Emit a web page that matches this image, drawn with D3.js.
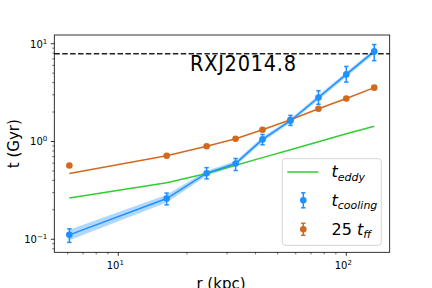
<!DOCTYPE html>
<html>
<head>
<meta charset="utf-8">
<script src="https://cdn.jsdelivr.net/npm/d3@7"></script>
<style>
    body { margin: 0; background: #fff; }
    text { font-family: "DejaVu Sans", sans-serif; }
</style>
</head>
<body>
<script>
    'use strict';

    // radii (kpc) of the annuli
    var radius = [6.1, 16.3, 24.4, 32.7, 42.9, 56.9, 75.5, 100, 132.6];

    // cooling time, with error bars and shaded band
    var tCool = [0.111, 0.261, 0.474, 0.596, 1.05, 1.63, 2.82, 4.85, 8.34];
    var tCoolErrLo = [0.093, 0.225, 0.415, 0.505, 0.925, 1.46, 2.4, 4.05, 6.7];
    var tCoolErrHi = [0.128, 0.297, 0.54, 0.67, 1.18, 1.85, 3.3, 5.85, 9.8];
    var tCoolBandLo = [0.098, 0.238, 0.447, 0.562, 0.99, 1.55, 2.66, 4.57, 7.85];
    var tCoolBandHi = [0.125, 0.285, 0.503, 0.632, 1.11, 1.71, 2.98, 5.13, 8.85];

    // 25 x free-fall time: points and model line
    var tFF25 = [0.568, 0.714, 0.895, 1.066, 1.32, 1.67, 2.16, 2.75, 3.55];
    var tFF25Err = [0.02, 0.02, 0.025, 0.03, 0.035, 0.04, 0.05, 0.06, 0.08];
    var tFF25Model = [0.47, 0.714, 0.895, 1.066, 1.32, 1.67, 2.16, 2.75, 3.55];

    // eddy turnover time
    var tEddy = [0.265, 0.378, 0.47, 0.571, 0.684, 0.824, 0.993, 1.20, 1.43];

    var tHubble = 7.9;
    var xTicks = [10, 100];
    var yTicks = [0.1, 1, 10];

    var W = 432, H = 288;
    var pLeft = 54.3, pRight = 389.7, pTop = 35, pBottom = 252.3;
    var blue = '#1e90ff', orange = '#d2691e', green = '#32cd32';

    var svg = d3.select('body').append('svg')
        .attr('width', W)
        .attr('height', H);

    var x = d3.scaleLog().domain([5.24, 155]).range([pLeft, pRight]);
    var y = d3.scaleLog().domain([0.0736, 12.27]).range([pBottom, pTop]);

    var pts = radius.map(function (r, i) {
        return { r: r, cool: tCool[i], lo: tCoolErrLo[i], hi: tCoolErrHi[i],
                 bLo: tCoolBandLo[i], bHi: tCoolBandHi[i],
                 ff: tFF25[i], ffErr: tFF25Err[i], ffm: tFF25Model[i], eddy: tEddy[i] };
    });

    var plot = svg.append('g');

    // cooling band
    plot.append('path')
        .datum(pts)
        .attr('d', d3.area()
            .x(function (d) { return x(d.r); })
            .y0(function (d) { return y(d.bLo); })
            .y1(function (d) { return y(d.bHi); }))
        .attr('fill', blue)
        .attr('fill-opacity', 0.35);

    function line(key) {
        return d3.line()
            .x(function (d) { return x(d.r); })
            .y(function (d) { return y(d[key]); });
    }

    plot.append('path').datum(pts).attr('d', line('eddy'))
        .attr('fill', 'none').attr('stroke', green).attr('stroke-width', 1.5);
    plot.append('path').datum(pts).attr('d', line('ffm'))
        .attr('fill', 'none').attr('stroke', orange).attr('stroke-width', 1.5);
    plot.append('path').datum(pts).attr('d', line('cool'))
        .attr('fill', 'none').attr('stroke', blue).attr('stroke-width', 1.5);

    // hubble time
    plot.append('line')
        .attr('x1', pLeft).attr('x2', pRight)
        .attr('y1', y(tHubble)).attr('y2', y(tHubble))
        .attr('stroke', '#222').attr('stroke-width', 1.5)
        .attr('stroke-dasharray', '5.5,2.4');

    function errbars(g, color, getY, getLo, getHi) {
        var e = g.selectAll(null).data(pts).enter().append('g').attr('stroke', color).attr('stroke-width', 1.5);
        e.append('line')
            .attr('x1', function (d) { return x(d.r); })
            .attr('x2', function (d) { return x(d.r); })
            .attr('y1', function (d) { return y(getLo(d)); })
            .attr('y2', function (d) { return y(getHi(d)); });
        [getLo, getHi].forEach(function (f) {
            e.append('line')
                .attr('x1', function (d) { return x(d.r) - 2.2; })
                .attr('x2', function (d) { return x(d.r) + 2.2; })
                .attr('y1', function (d) { return y(f(d)); })
                .attr('y2', function (d) { return y(f(d)); });
        });
        g.selectAll(null).data(pts).enter().append('circle')
            .attr('cx', function (d) { return x(d.r); })
            .attr('cy', function (d) { return y(getY(d)); })
            .attr('r', 3.3)
            .attr('fill', color);
    }

    errbars(plot.append('g'), orange,
        function (d) { return d.ff; },
        function (d) { return d.ff - d.ffErr; },
        function (d) { return d.ff + d.ffErr; });
    errbars(plot.append('g'), blue,
        function (d) { return d.cool; },
        function (d) { return d.lo; },
        function (d) { return d.hi; });

    // title text (narrow, widely spaced glyphs in the reference)
    svg.append('text')
        .attr('x', 190).attr('y', 71)
        .attr('font-size', 21.5)
        .style('font-family', '"DejaVu Sans Condensed", "DejaVu Sans", sans-serif')
        .style('font-stretch', 'condensed')
        .attr('textLength', 106)
        .attr('lengthAdjust', 'spacing')
        .attr('fill', '#000')
        .text('RXJ2014.8');

    // frame
    svg.append('rect')
        .attr('x', pLeft).attr('y', pTop)
        .attr('width', pRight - pLeft).attr('height', pBottom - pTop)
        .attr('fill', 'none').attr('stroke', '#000').attr('stroke-width', 0.8);

    // axes
    var xAxis = svg.append('g').attr('transform', 'translate(0,' + pBottom + ')');
    var xMinor = [];
    [1, 10].forEach(function (b) {
        for (var k = 2; k < 10; k++) {
            var v = b * k;
            if (v > 5.24 && v < 155) xMinor.push(v);
        }
    });
    xAxis.selectAll('.mn').data(xMinor).enter().append('line')
        .attr('x1', function (d) { return x(d); }).attr('x2', function (d) { return x(d); })
        .attr('y1', 0).attr('y2', 2).attr('stroke', '#000').attr('stroke-width', 0.6);
    xAxis.selectAll('.mj').data(xTicks).enter().append('line')
        .attr('x1', function (d) { return x(d); }).attr('x2', function (d) { return x(d); })
        .attr('y1', 0).attr('y2', 3.5).attr('stroke', '#000').attr('stroke-width', 0.8);
    var xl = xAxis.selectAll('.lb').data(xTicks).enter().append('text')
        .attr('x', function (d) { return x(d) - 3; })
        .attr('y', 17)
        .attr('text-anchor', 'middle')
        .attr('font-size', 10);
    xl.append('tspan').text('10');
    xl.append('tspan').attr('dy', -4).attr('font-size', 7)
        .text(function (d) { return Math.round(Math.log10(d)); });

    var yAxis = svg.append('g').attr('transform', 'translate(' + pLeft + ',0)');
    var yMinor = [];
    [0.01, 0.1, 1, 10].forEach(function (b) {
        for (var k = 2; k < 10; k++) {
            var v = b * k;
            if (v > 0.0736 && v < 12.27) yMinor.push(v);
        }
    });
    yAxis.selectAll('.mn').data(yMinor).enter().append('line')
        .attr('y1', function (d) { return y(d); }).attr('y2', function (d) { return y(d); })
        .attr('x1', 0).attr('x2', -2).attr('stroke', '#000').attr('stroke-width', 0.6);
    yAxis.selectAll('.mj').data(yTicks).enter().append('line')
        .attr('y1', function (d) { return y(d); }).attr('y2', function (d) { return y(d); })
        .attr('x1', 0).attr('x2', -3.5).attr('stroke', '#000').attr('stroke-width', 0.8);
    var yl = yAxis.selectAll('.lb').data(yTicks).enter().append('text')
        .attr('x', -7)
        .attr('y', function (d) { return y(d) + 4; })
        .attr('text-anchor', 'end')
        .attr('font-size', 10);
    yl.append('tspan').text('10');
    yl.append('tspan').attr('dy', -4).attr('font-size', 7)
        .text(function (d) { var p = Math.round(Math.log10(d)); return p < 0 ? '\u2212' + (-p) : p; });

    // axis labels (x label sits at the bottom edge, partly cut as in the reference)
    svg.append('text')
        .attr('x', 221).attr('y', 289)
        .attr('text-anchor', 'middle')
        .attr('font-size', 15)
        .text('r (kpc)');
    svg.append('text')
        .attr('transform', 'translate(18.5,' + ((pTop + pBottom) / 2) + ') rotate(-90)')
        .attr('text-anchor', 'middle')
        .attr('font-size', 15)
        .text('t (Gyr)');

    // legend
    var lg = svg.append('g');
    lg.append('rect')
        .attr('x', 282.3).attr('y', 158.7)
        .attr('width', 99).attr('height', 86.6)
        .attr('rx', 3)
        .attr('fill', '#fff').attr('fill-opacity', 0.8)
        .attr('stroke', '#ccc').attr('stroke-width', 0.8);
    lg.append('line')
        .attr('x1', 287.3).attr('x2', 318.3).attr('y1', 172).attr('y2', 172)
        .attr('stroke', green).attr('stroke-width', 1.5);
    [[blue, 200.3, 7.5], [orange, 229.3, 6]].forEach(function (m) {
        var g = lg.append('g').attr('stroke', m[0]).attr('stroke-width', 1.5);
        g.append('line').attr('x1', 303.3).attr('x2', 303.3).attr('y1', m[1] - m[2]).attr('y2', m[1] + m[2]);
        g.append('line').attr('x1', 301.1).attr('x2', 305.5).attr('y1', m[1] - m[2]).attr('y2', m[1] - m[2]);
        g.append('line').attr('x1', 301.1).attr('x2', 305.5).attr('y1', m[1] + m[2]).attr('y2', m[1] + m[2]);
        lg.append('circle').attr('cx', 303.3).attr('cy', m[1]).attr('r', 3.3).attr('fill', m[0]);
    });

    function legendText(yy, pre, sub) {
        var t = lg.append('text').attr('x', 331.5).attr('y', yy).attr('font-size', 16);
        if (pre) t.append('tspan').text(pre);
        t.append('tspan').attr('font-style', 'italic').text('t');
        t.append('tspan').attr('font-style', 'italic').attr('font-size', 11).attr('dy', 3.5).text(sub);
    }
    legendText(177, '', 'eddy');
    legendText(205.5, '', 'cooling');
    legendText(234.5, '25 ', 'ff');
</script>
</body>
</html>
